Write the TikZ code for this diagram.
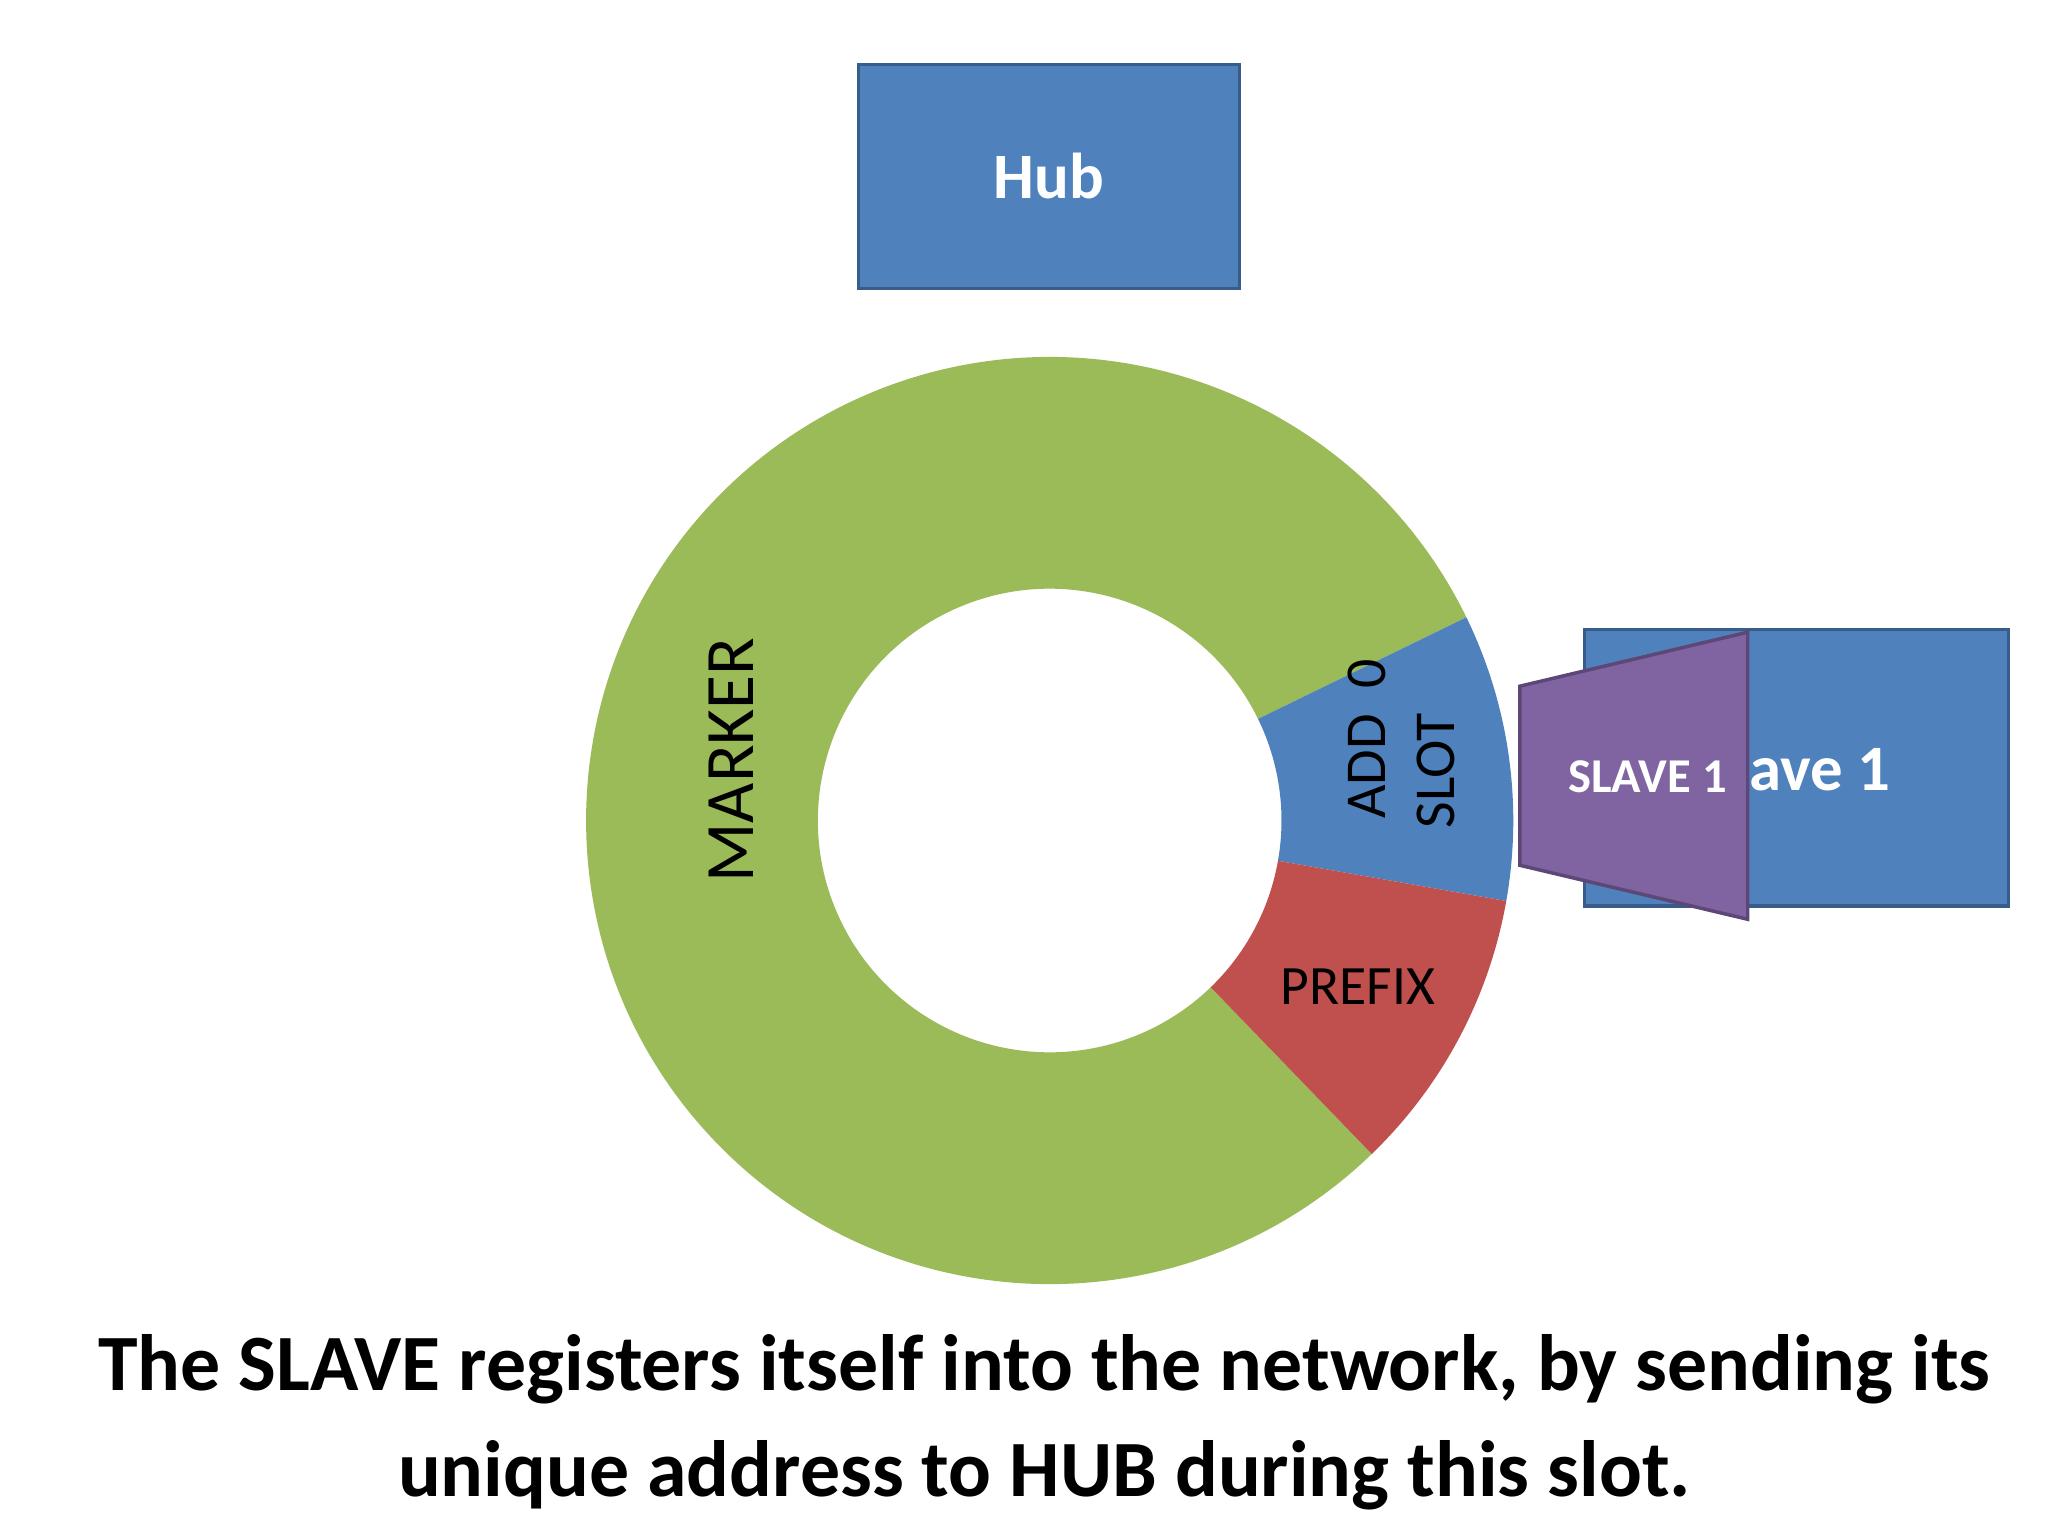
\documentclass[tikz,border=0pt]{standalone}
\usepackage{fontspec}
\setmainfont{Carlito}
\begin{document}
\begin{tikzpicture}[x=0.02cm,y=-0.02cm]
\definecolor{bl}{HTML}{4F81BD}\definecolor{bld}{HTML}{385D8A}
\definecolor{gr}{HTML}{9BBB59}\definecolor{rd}{HTML}{C0504D}
\definecolor{pu}{HTML}{8064A2}\definecolor{pud}{HTML}{5C4776}
\tikzset{box/.style={draw=bld,line width=1.5pt,fill=bl}}
\useasboundingbox (0,0) rectangle (1555,1166);
\coordinate (c) at (797,623);
\fill[gr] ([shift={(46:352)}]c) arc[start angle=46,end angle=334,radius=352] -- ([shift={(334:176)}]c) arc[start angle=334,end angle=46,radius=176] -- cycle;
\fill[bl] ([shift={(-26:352)}]c) arc[start angle=-26,end angle=10,radius=352] -- ([shift={(10:176)}]c) arc[start angle=10,end angle=-26,radius=176] -- cycle;
\fill[rd] ([shift={(10:352)}]c) arc[start angle=10,end angle=46,radius=352] -- ([shift={(46:176)}]c) arc[start angle=46,end angle=10,radius=176] -- cycle;
\node[box,minimum width=289*0.02cm,minimum height=170*0.02cm,text=white,font=\fontsize{28}{32}\selectfont\bfseries] (hub) at (796.5,134) {Hub};
\node[box,minimum width=322*0.02cm,minimum height=210*0.02cm,text=white,font=\fontsize{28}{32}\selectfont\bfseries] (s1) at (1364,583) {Slave 1};
\draw[fill=pu,draw=pud,line width=1.5pt] (1154,521) -- (1327,480) -- (1327,698) -- (1154,657) -- cycle;
\node[text=white,font=\fontsize{21}{24}\selectfont\bfseries] (ps) at (1251,590) {SLAVE 1};
\node[rotate=90,font=\fontsize{30}{34}\selectfont] (mk) at (555,577) {MARKER};
\node[rotate=90,anchor=west,font=\fontsize{25}{28}\selectfont] (add) at (1038,628) {ADD\ \ 0};
\node[rotate=90,anchor=west,font=\fontsize{25}{28}\selectfont] (slot) at (1090,635) {SLOT};
\node[font=\fontsize{24}{28}\selectfont] (pre) at (1031,749) {PREFIX};
\node[align=center,font=\fontsize{34.5}{46}\selectfont\bfseries] (cap) at (793,1080) {The SLAVE registers itself into the network, by sending its\\unique address to HUB during this slot.};
\end{tikzpicture}
\end{document}
